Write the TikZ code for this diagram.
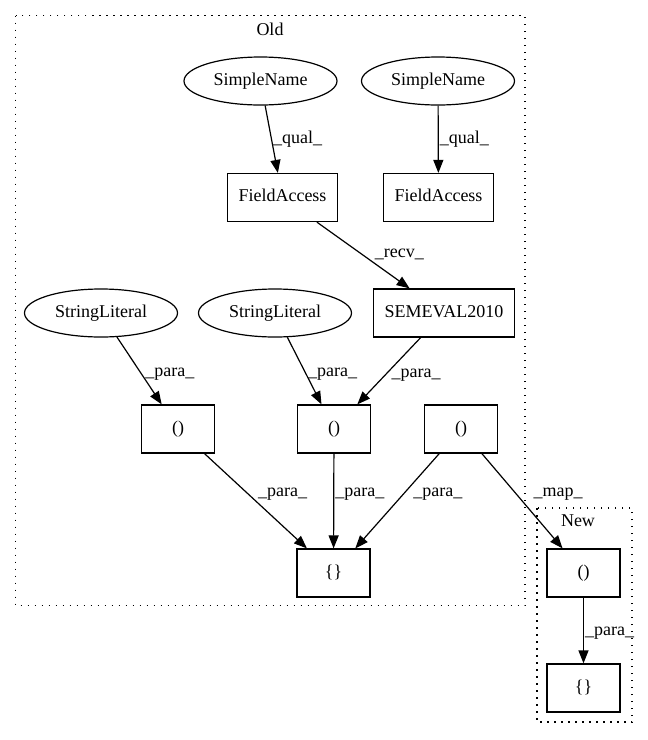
\documentclass[tikz,border=0pt]{standalone}
\usepackage{fontspec}
\setmainfont{Liberation Serif}
\usetikzlibrary{arrows.meta,shapes.geometric,positioning}

\begin{document}
\begin{tikzpicture}
  [x=1pt,y=-1pt,font=\fontsize{18}{21}\selectfont,
   every node/.style={text height=12pt,text depth=4pt},
   box/.style={draw,line width=1.2pt,rectangle,minimum width=73pt,minimum height=48pt,inner xsep=11pt},
   oval/.style={draw,line width=1.2pt,ellipse,minimum width=153pt,minimum height=48pt},
   lbl/.style={anchor=west,inner sep=1pt},
   cluster/.style={line width=1.5pt,dash pattern=on 1.5pt off 5.5pt},
   edge/.style={line width=1.2pt,-{Triangle[length=13pt,width=10pt]}}]
  \useasboundingbox (0,0) rectangle (648,740);

  % clusters
  \draw[cluster] (15.5,15.5) rectangle (525,605.5);
  \draw[cluster] (537,508) rectangle (632,722);
  \node (old) at (270,31) {Old};
  \node (new) at (578,522) {New};

  % old
  \node[oval] (sn1) at (260.5,81) {SimpleName};
  \node[oval] (sn2) at (438,81) {SimpleName};
  \node[box] (fa1) at (282.5,197.5) {FieldAccess};
  \node[box] (fa2) at (438.5,197.5) {FieldAccess};
  \node[box] (sem) at (444,313) {SEMEVAL2010};
  \node[oval] (sl1) at (101,313) {StringLiteral};
  \node[oval] (sl2) at (275,313) {StringLiteral};
  \node[box] (p1) at (178,429) {()};
  \node[box] (p2) at (334,429) {()};
  \node[box] (p3) at (461,429) {()};
  \node[box] (br) at (333.5,573) {\{\}};

  % new
  \node[box] (nb) at (583.5,573) {()};
  \node[box] (nc) at (583.5,688) {\{\}};

  \foreach \from/\to/\txt/\p/\dx in {sn1/fa1/\_qual\_/.5/0,sn2/fa2/\_qual\_/.5/0,
      fa1/sem/\_recv\_/.48/12,sl1/p1/\_para\_/.53/3,sl2/p2/\_para\_/.53/1,
      sem/p2/\_para\_/.53/3,p1/br/\_para\_/.41/10,p2/br/\_para\_/.41/0,
      p3/br/\_para\_/.41/7,p3/nb/\_map\_/.41/17,nb/nc/\_para\_/.51/0}
    \draw[edge] (\from) -- (\to) node[lbl,pos=\p,xshift=\dx pt] {\txt};
\end{tikzpicture}
\end{document}
